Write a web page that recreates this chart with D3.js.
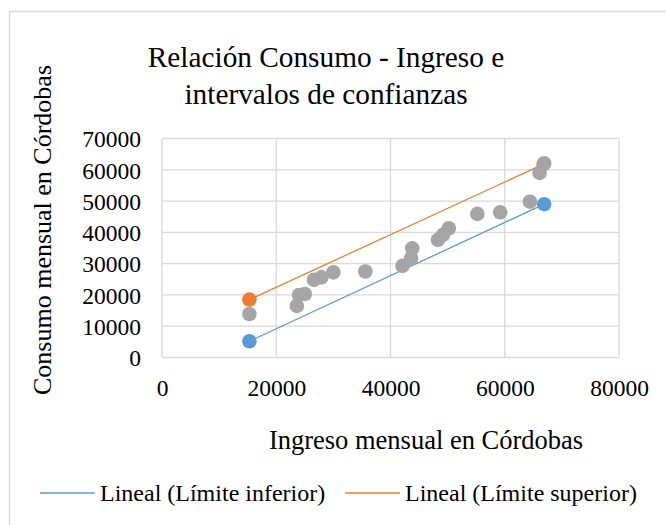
<!DOCTYPE html>
<html><head><meta charset="utf-8">
<script src="https://cdn.jsdelivr.net/npm/d3@7"></script>
<style>body{margin:0;background:#fff}svg{display:block}svg text{font-family:"Liberation Serif","Times New Roman","Nimbus Roman","DejaVu Serif",serif}</style>
</head><body>
<svg id="c" width="666" height="525"></svg>
<script>
const title = ["Relación Consumo - Ingreso e", "intervalos de confianzas"];
const xTitle = "Ingreso mensual en Córdobas";
const yTitle = "Consumo mensual en Córdobas";
const xTicks = [0, 20000, 40000, 60000, 80000];
const yTicks = [0, 10000, 20000, 30000, 40000, 50000, 60000, 70000];
// Consumo (gray points)
const consumoX = [15300, 23600, 24000, 25000, 26600, 27900, 30000, 35600, 42100, 43600, 43800, 48300, 49200, 50200, 55200, 59200, 64400, 66100, 66900];
const consumoY = [13900, 16500, 20000, 20300, 24800, 25600, 27200, 27500, 29300, 31700, 34900, 37600, 39200, 41300, 45900, 46400, 49800, 59000, 62100];
// Límites
const inferiorX = [15300, 66900];
const inferiorY = [5200, 49000];
const superiorX = [15300, 66800];
const superiorY = [18500, 61800];
const legendLabels = ["Lineal (Límite inferior)", "Lineal (Límite superior)"];
const colors = {consumo: "#a5a5a5", inferior: "#5b9bd5", superior: "#ed7d31"};

const svg = d3.select("#c");
svg.append("rect").attr("x", 9.5).attr("y", 11.5).attr("width", 670).attr("height", 530)
  .attr("fill", "#fff").attr("stroke", "#d9d9d9").attr("stroke-width", 1.5);

const L = 162, R = 619, T = 138.5, B = 357.5;
const x = d3.scaleLinear().domain([0, 80000]).range([L, R]);
const y = d3.scaleLinear().domain([0, 70000]).range([B, T]);

const g = svg.append("g");
g.selectAll(".hg").data(yTicks).join("line")
  .attr("x1", L).attr("x2", R).attr("y1", d => y(d)).attr("y2", d => y(d))
  .attr("stroke", "#d9d9d9").attr("stroke-width", 1.3);
g.selectAll(".vg").data(xTicks).join("line")
  .attr("y1", T).attr("y2", B).attr("x1", d => x(d)).attr("x2", d => x(d))
  .attr("stroke", "#d9d9d9").attr("stroke-width", 1.3);

const xAxis = d3.axisBottom(x).tickValues(xTicks).tickSize(0).tickPadding(22).tickFormat(d3.format("d"));
const yAxis = d3.axisLeft(y).tickValues(yTicks).tickSize(0).tickPadding(21).tickFormat(d3.format("d"));
const gx = svg.append("g").attr("transform", `translate(0,${B})`).call(xAxis);
const gy = svg.append("g").attr("transform", `translate(${L},0)`).call(yAxis);
[gx, gy].forEach(a => {
  a.attr("font-family", null);
  a.select(".domain").remove();
  a.selectAll("text").attr("font-size", 23.5).attr("fill", "#000");
});
gy.selectAll("text").attr("dy", "0.35em");

const line = d3.line().x(d => x(d[0])).y(d => y(d[1]));
svg.append("path").datum(inferiorX.map((v, i) => [v, inferiorY[i]])).attr("d", line)
  .attr("stroke", colors.inferior).attr("stroke-width", 1.3).attr("fill", "none");
svg.append("path").datum(superiorX.map((v, i) => [v, superiorY[i]])).attr("d", line)
  .attr("stroke", colors.superior).attr("stroke-width", 1.3).attr("fill", "none");

const r = 7.3;
svg.append("g").selectAll("circle").data(superiorX.map((v, i) => [v, superiorY[i]])).join("circle")
  .attr("cx", d => x(d[0])).attr("cy", d => y(d[1])).attr("r", r).attr("fill", colors.superior);
svg.append("g").selectAll("circle").data(consumoX.map((v, i) => [v, consumoY[i]])).join("circle")
  .attr("cx", d => x(d[0])).attr("cy", d => y(d[1])).attr("r", r).attr("fill", colors.consumo);
svg.append("g").selectAll("circle").data(inferiorX.map((v, i) => [v, inferiorY[i]])).join("circle")
  .attr("cx", d => x(d[0])).attr("cy", d => y(d[1])).attr("r", r).attr("fill", colors.inferior);

svg.append("text").attr("x", 326).attr("text-anchor", "middle")
  .attr("font-size", 29.3).attr("fill", "#000")
  .selectAll("tspan").data(title).join("tspan")
  .attr("x", 326).attr("y", (d, i) => 67 + i * 37).text(d => d);

svg.append("text").attr("x", 426).attr("y", 449).attr("text-anchor", "middle")
  .attr("font-size", 26.5).attr("fill", "#000").text(xTitle);
svg.append("text").attr("transform", "translate(51,230) rotate(-90)").attr("text-anchor", "middle")
  .attr("font-size", 26).attr("fill", "#000").text(yTitle);

const lg = svg.append("g");
const items = [
  {label: legendLabels[0], color: colors.inferior, x: 40},
  {label: legendLabels[1], color: colors.superior, x: 345}
];
items.forEach(it => {
  lg.append("line").attr("x1", it.x).attr("x2", it.x + 55).attr("y1", 493).attr("y2", 493)
    .attr("stroke", it.color).attr("stroke-width", 1.3);
  lg.append("text").attr("x", it.x + 60).attr("y", 493).attr("dy", "0.35em")
    .attr("font-size", 24).attr("fill", "#000").text(it.label);
});
</script>
</body></html>
